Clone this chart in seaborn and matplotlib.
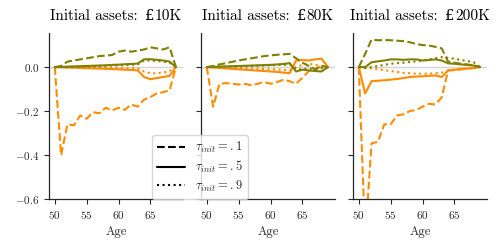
import numpy as np
import pandas as pd
import matplotlib
matplotlib.use("Agg")
import matplotlib.pyplot as plt
from matplotlib.lines import Line2D
from matplotlib.offsetbox import TextArea, HPacker, AnchoredOffsetbox
import seaborn as sns

ages = list(range(50, 70))
panels = ["10K", "80K", "200K"]
taus = [".1", ".5", ".9"]
series = ["a", "b"]  # a = orange, b = olive

# Panel 1: initial assets £10K
orange_dashed_10 = [0, -0.40, -0.26, -0.265, -0.22, -0.235, -0.205, -0.21, -0.185, -0.197,
                    -0.185, -0.194, -0.17, -0.18, -0.148, -0.136, -0.12, -0.114, -0.106, 0]
orange_solid_10 = [0, -0.001, -0.002, -0.003, -0.004, -0.005, -0.006, -0.007, -0.008, -0.009,
                   -0.01, -0.012, -0.013, -0.015, -0.045, -0.055, -0.05, -0.045, -0.04, 0]
orange_dotted_10 = [0, 0, -0.001, -0.001, -0.002, -0.002, -0.003, -0.003, -0.004, -0.004,
                    -0.005, -0.005, -0.005, -0.006, -0.02, -0.028, -0.028, -0.025, -0.018, 0]
olive_dashed_10 = [0, 0.005, 0.025, 0.03, 0.035, 0.04, 0.045, 0.05, 0.052, 0.055,
                   0.07, 0.075, 0.07, 0.075, 0.08, 0.09, 0.085, 0.08, 0.09, 0]
olive_solid_10 = [0, 0.001, 0.002, 0.003, 0.004, 0.005, 0.006, 0.007, 0.008, 0.01,
                  0.011, 0.013, 0.014, 0.016, 0.035, 0.036, 0.033, 0.03, 0.025, 0]
olive_dotted_10 = [0, 0, 0, 0.001, 0.002, 0.003, 0.004, 0.005, 0.006, 0.007,
                   0.008, 0.009, 0.01, 0.012, 0.03, 0.03, 0.028, 0.025, 0.02, 0]

# Panel 2: initial assets £80K
orange_dashed_80 = [0, -0.18, -0.076, -0.073, -0.076, -0.079, -0.076, -0.083, -0.076, -0.068,
                    -0.076, -0.068, -0.058, -0.064, -0.076, -0.048, -0.018, -0.01, 0.005, 0]
orange_solid_80 = [0, -0.002, -0.004, -0.006, -0.008, -0.01, -0.012, -0.014, -0.016, -0.018,
                   -0.02, -0.022, -0.025, -0.028, 0.03, 0.032, 0.03, 0.035, 0.038, 0]
orange_dotted_80 = [0, -0.001, -0.002, -0.003, -0.004, -0.005, -0.006, -0.007, -0.008, -0.009,
                    -0.01, -0.011, -0.013, -0.015, 0.0, 0.01, 0.015, 0.01, 0.005, 0]
olive_dashed_80 = [0, 0.005, 0.012, 0.018, 0.024, 0.03, 0.035, 0.04, 0.045, 0.05,
                   0.053, 0.056, 0.058, 0.06, 0.04, 0.02, 0.005, -0.01, 0.005, 0]
olive_solid_80 = [0, 0.001, 0.002, 0.003, 0.004, 0.005, 0.006, 0.007, 0.008, 0.009,
                  0.01, 0.012, 0.014, 0.018, -0.02, -0.012, -0.015, -0.018, -0.02, 0]
olive_dotted_80 = [0, 0.001, 0.001, 0.002, 0.002, 0.003, 0.004, 0.005, 0.006, 0.007,
                   0.008, 0.009, 0.01, 0.012, -0.01, -0.01, -0.005, -0.01, -0.005, 0]

# Panel 3: initial assets £200K
orange_dashed_200 = [0, -0.78, -0.347, -0.34, -0.26, -0.26, -0.22, -0.215, -0.2, -0.195,
                     -0.18, -0.167, -0.17, -0.138, -0.015, -0.013, -0.01, -0.007, -0.004, 0]
orange_solid_200 = [0, -0.12, -0.064, -0.062, -0.06, -0.057, -0.054, -0.05, -0.045, -0.043,
                    -0.042, -0.04, -0.038, -0.045, -0.015, -0.012, -0.01, -0.007, -0.004, 0]
orange_dotted_200 = [0, -0.003, -0.006, -0.01, -0.014, -0.018, -0.022, -0.026, -0.028, -0.03,
                     -0.03, -0.03, -0.028, -0.025, -0.018, -0.012, -0.008, -0.005, -0.003, 0]
olive_dashed_200 = [0, 0.06, 0.125, 0.122, 0.123, 0.122, 0.12, 0.118, 0.113, 0.105,
                    0.1, 0.098, 0.092, 0.085, 0.025, 0.02, 0.015, 0.012, 0.008, 0]
olive_solid_200 = [0, 0.0, 0.022, 0.026, 0.03, 0.035, 0.035, 0.033, 0.035, 0.035,
                   0.03, 0.032, 0.035, 0.03, 0.017, 0.015, 0.012, 0.01, 0.007, 0]
olive_dotted_200 = [0, -0.005, 0.0, 0.005, 0.01, 0.015, 0.018, 0.02, 0.023, 0.026,
                    0.03, 0.035, 0.04, 0.045, 0.042, 0.038, 0.032, 0.028, 0.022, 0]

data = {
    "10K": {("a", ".1"): orange_dashed_10, ("a", ".5"): orange_solid_10, ("a", ".9"): orange_dotted_10,
            ("b", ".1"): olive_dashed_10, ("b", ".5"): olive_solid_10, ("b", ".9"): olive_dotted_10},
    "80K": {("a", ".1"): orange_dashed_80, ("a", ".5"): orange_solid_80, ("a", ".9"): orange_dotted_80,
            ("b", ".1"): olive_dashed_80, ("b", ".5"): olive_solid_80, ("b", ".9"): olive_dotted_80},
    "200K": {("a", ".1"): orange_dashed_200, ("a", ".5"): orange_solid_200, ("a", ".9"): orange_dotted_200,
             ("b", ".1"): olive_dashed_200, ("b", ".5"): olive_solid_200, ("b", ".9"): olive_dotted_200},
}

rows = []
for p in panels:
    for (s, t), vals in data[p].items():
        for a, v in zip(ages, vals):
            rows.append({"panel": p, "series": s, "tau": t, "age": a, "value": v})
df = pd.DataFrame(rows)

sns.set_style("ticks")
plt.rcParams["font.family"] = ["cmr10", "DejaVu Serif"]
plt.rcParams["mathtext.fontset"] = "cm"
plt.rcParams["axes.formatter.use_mathtext"] = True
plt.rcParams["axes.unicode_minus"] = True

palette = {"a": "darkorange", "b": "olive"}
dashes = {".1": (3.7, 1.6), ".5": "", ".9": (1, 1.65)}

fig, axes = plt.subplots(1, 3, figsize=(5, 2.5), dpi=100, sharey=True)
fig.subplots_adjust(left=0.098, right=0.974, bottom=0.204, top=0.868, wspace=0.135)

title_fs = 11
for ax, p in zip(axes, panels):
    ax.axhline(0, color="lightgray", lw=1, zorder=0)
    sns.lineplot(data=df[df.panel == p], x="age", y="value", hue="series", style="tau",
                 palette=palette, dashes=dashes, hue_order=series, style_order=taus,
                 lw=1.5, legend=False, ax=ax)
    # title: "Initial assets: £<p>" (the £ glyph taken from DejaVu Serif)
    t1 = TextArea("Initial assets:", textprops=dict(family="cmr10", size=title_fs, color="black"))
    t2 = TextArea("\u00a3", textprops=dict(family="DejaVu Serif", size=title_fs - 0.5, color="black"))
    t3 = TextArea(p, textprops=dict(family="cmr10", size=title_fs, color="black"))
    inner = HPacker(children=[t2, t3], align="baseline", pad=0, sep=0.5)
    box = HPacker(children=[t1, inner], align="baseline", pad=0, sep=5)
    ab = AnchoredOffsetbox(loc="lower center", child=box, pad=0, borderpad=0, frameon=False,
                           bbox_to_anchor=(0.5, 1.06), bbox_transform=ax.transAxes)
    ax.add_artist(ab)
    ax.set_xlabel("Age", fontsize=9)
    ax.set_ylabel("")
    ax.set_xlim(49.1, 70.1)
    ax.set_xticks([50, 55, 60, 65])
    ax.tick_params(labelsize=8, length=3.5, width=0.8)
    for sp in ["left", "bottom"]:
        ax.spines[sp].set_linewidth(0.9)
    sns.despine(ax=ax)

axes[0].set_ylim(-0.6, 0.155)
axes[0].set_yticks([0.0, -0.2, -0.4, -0.6])

handles = [Line2D([], [], color="black", lw=1.5, dashes=dashes[".1"]),
           Line2D([], [], color="black", lw=1.5),
           Line2D([], [], color="black", lw=1.5, linestyle=(0, (1, 1.65)))]
labels = [r"$\tau_{init} = .1$", r"$\tau_{init} = .5$", r"$\tau_{init} = .9$"]
fig.legend(handles, labels, loc="lower center", bbox_to_anchor=(0.4, 0.204), fontsize=9,
           handlelength=2.2, labelspacing=0.3, borderpad=0.4, borderaxespad=0, frameon=True)

fig.savefig("out.png", dpi=100)
